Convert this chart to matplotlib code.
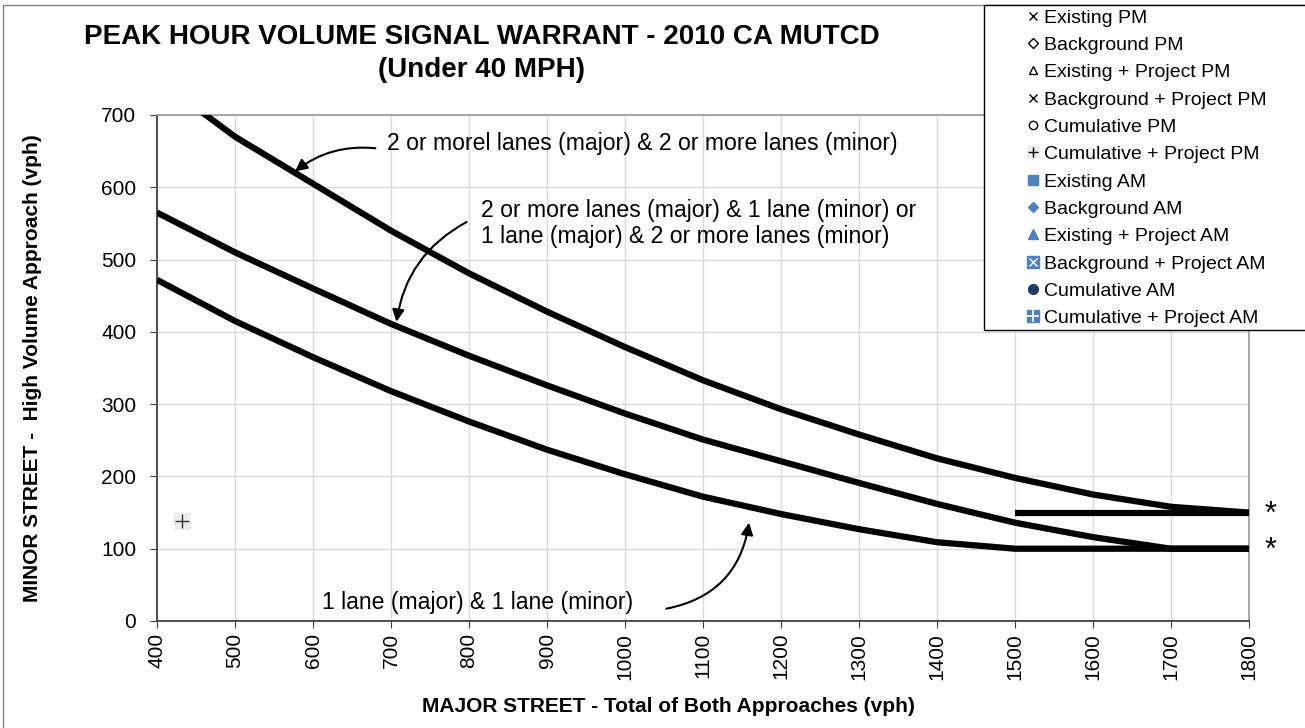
import numpy as np
import matplotlib
matplotlib.use('Agg')
import matplotlib.pyplot as plt
from matplotlib.lines import Line2D
from matplotlib.patches import Rectangle
from matplotlib.legend_handler import HandlerTuple

plt.rcParams['font.family'] = ['Liberation Sans', 'DejaVu Sans']

# warrant curves
major_vph = [400, 500, 600, 700, 800, 900, 1000, 1100, 1200, 1300, 1400, 1500, 1600, 1700, 1800]
two_two = [750, 670, 605, 540, 481, 428, 379, 333, 293, 258, 225, 198, 175, 158, 150]
two_one = [565, 510, 460, 411, 367, 326, 287, 251, 221, 191, 162, 136, 116, 100, 100]
one_one = [472, 415, 365, 318, 276, 237, 203, 172, 148, 127, 109, 100, 100, 100, 100]
floor_x = [1500, 1800]
floor_y = [150, 150]

# study point
point_x = [432]
point_y = [138]

legend_names = ['Existing PM', 'Background PM', 'Existing + Project PM',
                'Background + Project PM', 'Cumulative PM', 'Cumulative + Project PM',
                'Existing AM', 'Background AM', 'Existing + Project AM',
                'Background + Project AM', 'Cumulative AM', 'Cumulative + Project AM']

blue = '#4F81BD'
navy = '#1F3864'

fig = plt.figure(figsize=(13.05, 7.28), dpi=100)
ax = fig.add_axes([157/1305, 1-621/728, (1249-157)/1305, (621-115)/728])

ax.plot(major_vph, two_two, color='black', lw=4.5, solid_capstyle='butt', zorder=3)
ax.plot(major_vph, two_one, color='black', lw=4.5, solid_capstyle='butt', zorder=3)
ax.plot(major_vph, one_one, color='black', lw=4.5, solid_capstyle='butt', zorder=3)
ax.plot(floor_x, floor_y, color='black', lw=4.5, solid_capstyle='butt', zorder=3)

ax.scatter(point_x, point_y, marker='s', s=130, color='#EDEDED', zorder=4)
ax.scatter(point_x, point_y, marker='+', s=110, color='#333333', lw=1, zorder=5)

ax.set_xlim(400, 1800)
ax.set_ylim(0, 700)
ax.set_xticks(major_vph)
ax.set_yticks(np.arange(0, 701, 100))
ax.tick_params(axis='x', labelrotation=90, labelsize=15, length=5, color='#404040')
ax.tick_params(axis='y', labelsize=15, length=5, pad=10, color='#404040')
ax.grid(color='#D9D9D9', lw=1)
ax.set_axisbelow(True)
for s in ['left', 'bottom']:
    ax.spines[s].set_color('#404040')
    ax.spines[s].set_linewidth(1.3)
for s in ['top', 'right']:
    ax.spines[s].set_color('#A0A0A0')
    ax.spines[s].set_linewidth(1.3)

ax.set_xlabel('MAJOR STREET - Total of Both Approaches (vph)', fontsize=15, fontweight='bold')
ax.set_ylabel('MINOR STREET -  High Volume Approach (vph)', fontsize=15, fontweight='bold')
ax.xaxis.set_label_coords((668-157)/1092, -(697-621)/506)
ax.yaxis.set_label_coords(-(157-42)/1092, 0.5)

# curve labels and arrows
ax.text(695, 661, '2 or morel lanes (major) & 2 or more lanes (minor)', fontsize=16.6, va='center')
ax.text(815, 550, '2 or more lanes (major) & 1 lane (minor) or\n1 lane (major) & 2 or more lanes (minor)',
        fontsize=16.6, va='center', linespacing=1.15)
ax.text(612, 26, '1 lane (major) & 1 lane (minor)', fontsize=16.6, va='center')
arrow = dict(arrowstyle='-|>', color='black', lw=1.5, shrinkA=0, shrinkB=0, mutation_scale=18)
ax.annotate('', xy=(577, 622), xytext=(680, 654),
            arrowprops=dict(arrow, connectionstyle='arc3,rad=0.2'))
ax.annotate('', xy=(707, 414), xytext=(797, 552),
            arrowprops=dict(arrow, connectionstyle='arc3,rad=0.25'))
ax.annotate('', xy=(1159, 136), xytext=(1053, 17),
            arrowprops=dict(arrow, connectionstyle='arc3,rad=0.35'))

ax.text(1820, 147, '*', fontsize=22, va='center', clip_on=False)
ax.text(1820, 97, '*', fontsize=22, va='center', clip_on=False)

fig.text(482/1305, 1-37/728, 'PEAK HOUR VOLUME SIGNAL WARRANT - 2010 CA MUTCD',
         fontsize=20, fontweight='bold', ha='center', va='center')
fig.text(482/1305, 1-70/728, '(Under 40 MPH)', fontsize=20, fontweight='bold', ha='center', va='center')

# outer chart border and legend box
fig.patches.append(Rectangle((3/1305, -0.02), 1.1, 1-5/728+0.02, transform=fig.transFigure,
                             fill=False, edgecolor='#808080', lw=1))
fig.patches.append(Rectangle((984/1305, 1-330/728), 0.3, 325/728, transform=fig.transFigure,
                             facecolor='white', edgecolor='black', lw=1, zorder=5))

ms = 6
handles = [
    Line2D([], [], ls='', marker='x', color='black', ms=ms, mew=1),
    Line2D([], [], ls='', marker='D', mfc='white', mec='black', ms=ms-1, mew=1),
    Line2D([], [], ls='', marker='^', mfc='white', mec='black', ms=ms, mew=1),
    Line2D([], [], ls='', marker='x', color='black', ms=ms, mew=1),
    Line2D([], [], ls='', marker='o', mfc='white', mec='black', ms=ms, mew=1),
    (Line2D([], [], ls='', marker='s', color='#EDEDED', ms=ms+2),
     Line2D([], [], ls='', marker='+', color='black', ms=ms+1, mew=1)),
    Line2D([], [], ls='', marker='s', color=blue, ms=ms+1),
    Line2D([], [], ls='', marker='D', color=blue, ms=ms-1),
    Line2D([], [], ls='', marker='^', color=blue, ms=ms+1),
    (Line2D([], [], ls='', marker='s', color=blue, ms=ms+2),
     Line2D([], [], ls='', marker='x', color='white', ms=ms, mew=1)),
    Line2D([], [], ls='', marker='o', color=navy, ms=ms+1),
    (Line2D([], [], ls='', marker='s', color=blue, ms=ms+2),
     Line2D([], [], ls='', marker='+', color='white', ms=ms+2, mew=1.2)),
]
leg = fig.legend(handles, legend_names, loc='upper left', bbox_to_anchor=(1027/1305, 1-9/728),
                 frameon=False, fontsize=14, handlelength=0.6, handletextpad=0.27,
                 labelspacing=0.5, borderpad=0, borderaxespad=0,
                 handler_map={tuple: HandlerTuple(ndivide=1, pad=0)})
leg.set_zorder(6)

fig.savefig('out.png', dpi=100)
